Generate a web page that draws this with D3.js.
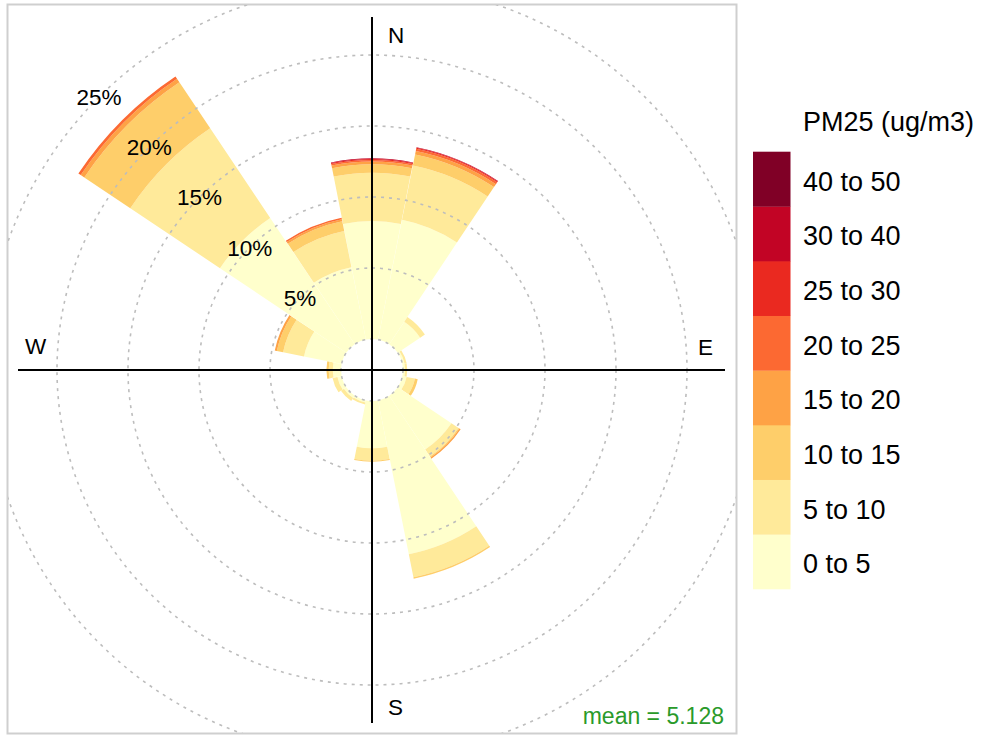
<!DOCTYPE html>
<html><head><meta charset="utf-8">
<script src="https://cdn.jsdelivr.net/npm/d3@7"></script>
<style>
body{margin:0;background:#fff;}
svg text{font-family:"Liberation Sans",Arial,sans-serif;}
</style></head>
<body><svg id="c" width="981" height="735"></svg>
<script>
// Wind direction sectors (degrees, clockwise from North)
const directions = [0,22.5,45,67.5,90,112.5,135,157.5,180,202.5,225,247.5,270,292.5,315,337.5];
// PM25 concentration bins
const binLabels = ["0 to 5","5 to 10","10 to 15","15 to 20","20 to 25","25 to 30","30 to 40","40 to 50"];
const binColors = ["#FFFFCC","#FFEA9A","#FECE6A","#FEA245","#FC6932","#EA2920","#C20425","#800026"];
// frequency (%) of each bin per direction sector
const s0_5   = [8.3, 8.6, 1.9, 0.15, 0.15, 0.3, 4.55, 11.05, 3.33, 0.15, 0.2, 0.3, 0.58, 2.7, 10.7, 5.2];
const s5_10  = [3.4, 3.9, 0.4, 0.15, 0.15, 0.6, 0.6, 1.65, 0.87, 0.15, 0.25, 0.35, 0.29, 1.5, 7.6, 2.6];
const s10_15 = [0.6, 0.8, 0, 0, 0, 0.2, 0.08, 0.1, 0.07, 0, 0, 0, 0.16, 0.45, 3.9, 0.7];
const s15_20 = [0.2, 0.25, 0, 0, 0, 0, 0.1, 0, 0, 0, 0, 0, 0, 0.15, 0.3, 0.15];
const s20_25 = [0.1, 0.15, 0, 0, 0, 0, 0, 0, 0, 0, 0, 0, 0, 0, 0.2, 0.1];
const s25_30 = [0.08, 0.08, 0, 0, 0, 0, 0, 0, 0, 0, 0, 0, 0, 0, 0, 0];
const s30_40 = [0.04, 0.04, 0, 0, 0, 0, 0, 0, 0, 0, 0, 0, 0, 0, 0, 0];
const s40_50 = [0, 0, 0, 0, 0, 0, 0, 0, 0, 0, 0, 0, 0, 0, 0, 0];
const ringTicks = [5,10,15,20,25];
const meanText = "mean = 5.128";
const legendTitle = "PM25 (ug/m3)";

const series = [s0_5,s5_10,s10_15,s15_20,s20_25,s25_30,s30_40,s40_50];
const svg = d3.select("#c");
const cx = 372, cy = 370;
const r = d3.scaleLinear().domain([0,25]).range([31,386]);
const half = 11.2 * Math.PI/180;

// panel border
svg.append("rect").attr("x",7.5).attr("y",4.5).attr("width",729).attr("height",729)
  .attr("fill","none").attr("stroke","#cfcfcf").attr("stroke-width",2);

const g = svg.append("g").attr("transform",`translate(${cx},${cy})`);
svg.append("clipPath").attr("id","pc").append("rect")
  .attr("x",8-cx).attr("y",5-cy).attr("width",728).attr("height",728);

// wedges
const arc = d3.arc();
const wedges = g.append("g");
directions.forEach((d,i)=>{
  let cum = 0;
  const a = d*Math.PI/180;
  series.forEach((s,k)=>{
    const v = s[i];
    if(v<=0) return;
    wedges.append("path").attr("d",arc({innerRadius:r(cum),outerRadius:r(cum+v),startAngle:a-half,endAngle:a+half}))
      .attr("fill",binColors[k]);
    cum += v;
  });
});

// grid rings (dashed)
const grid = g.append("g").attr("clip-path","url(#pc)");
[0].concat(ringTicks).forEach(t=>{
  grid.append("circle").attr("r",r(t)).attr("fill","none")
    .attr("stroke","#bdbdbd").attr("stroke-width",1.6).attr("stroke-dasharray","3,5");
});

// axes
g.append("line").attr("x1",0).attr("x2",0).attr("y1",-353).attr("y2",353).attr("stroke","#000").attr("stroke-width",2);
g.append("line").attr("x1",-354).attr("x2",353).attr("y1",0).attr("y2",0).attr("stroke","#000").attr("stroke-width",2);

// compass labels
const fs = 22.5;
g.append("text").attr("x",16).attr("y",-327).attr("font-size",fs).text("N");
g.append("text").attr("x",16).attr("y",345).attr("font-size",fs).text("S");
g.append("text").attr("x",326).attr("y",-15).attr("font-size",fs).text("E");
g.append("text").attr("x",-347).attr("y",-16).attr("font-size",fs).text("W");

// ring labels along 315 degrees
const la = -Math.PI/4;
ringTicks.forEach(t=>{
  const rr = r(t);
  g.append("text").attr("x",rr*Math.sin(la)).attr("y",-rr*Math.cos(la)+8)
    .attr("text-anchor","middle").attr("font-size",fs).text(t+"%");
});

// mean
svg.append("text").attr("x",724).attr("y",724).attr("text-anchor","end")
  .attr("font-size",23).attr("fill","#2a9a2a").text(meanText);

// legend
svg.append("text").attr("x",803).attr("y",131).attr("font-size",27).text(legendTitle);
const ly = d3.scaleBand().domain(d3.range(8).reverse()).range([151.7,589]).padding(0);
binLabels.forEach((lab,k)=>{
  svg.append("rect").attr("x",753).attr("y",ly(k)).attr("width",37.5).attr("height",ly.bandwidth()+0.3)
    .attr("fill",binColors[k]);
  svg.append("text").attr("x",803).attr("y",ly(k)+ly.bandwidth()/2+11.5).attr("font-size",27).text(lab);
});
</script></body></html>
